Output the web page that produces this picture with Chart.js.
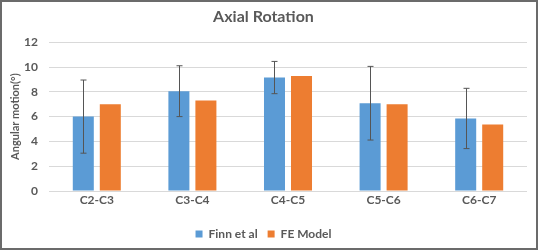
<!DOCTYPE html>
<html><head><meta charset="utf-8">
<script src="https://cdn.jsdelivr.net/npm/chart.js@4.4.0/dist/chart.umd.min.js"></script>
<style>
html,body{margin:0;padding:0;background:#fff;}
#wrap{position:relative;width:538px;height:250px;}
#frame{position:absolute;left:0;top:0;width:538px;height:250px;box-sizing:border-box;border:2px solid #6b6b6b;pointer-events:none;}
canvas{position:absolute;left:0;top:0;}
</style></head>
<body>
<div id="wrap"><canvas id="c" width="538" height="250"></canvas><div id="frame"></div></div>
<script>
const categories = ["C2-C3","C3-C4","C4-C5","C5-C6","C6-C7"];
const finnValues = [6.0, 8.05, 9.15, 7.08, 5.85];
const finnErrors = [2.95, 2.05, 1.3, 2.97, 2.43];
const feValues = [7.0, 7.3, 9.27, 7.0, 5.36];
const yTicks = [0, 2, 4, 6, 8, 10, 12];

const txt = '#595959';
const errorBars = {
  id: 'errorBars',
  afterDatasetsDraw(chart) {
    const ctx = chart.ctx;
    const meta = chart.getDatasetMeta(0);
    const y = chart.scales.y;
    ctx.save();
    ctx.strokeStyle = '#555555';
    ctx.lineWidth = 1;
    meta.data.forEach((bar, i) => {
      const x = Math.round(bar.x) + 0.5;
      const top = y.getPixelForValue(finnValues[i] + finnErrors[i]);
      const bot = y.getPixelForValue(finnValues[i] - finnErrors[i]);
      ctx.beginPath();
      ctx.moveTo(x, top); ctx.lineTo(x, bot);
      ctx.moveTo(x - 3, top); ctx.lineTo(x + 3, top);
      ctx.moveTo(x - 3, bot); ctx.lineTo(x + 3, bot);
      ctx.stroke();
    });
    ctx.restore();
  }
};

new Chart(document.getElementById('c'), {
  type: 'bar',
  data: {
    labels: categories,
    datasets: [
      { label: 'Finn et al', data: finnValues, backgroundColor: '#5B9BD5', categoryPercentage: 0.565, barPercentage: 0.778 },
      { label: 'FE Model', data: feValues, backgroundColor: '#ED7D31', categoryPercentage: 0.565, barPercentage: 0.778 }
    ]
  },
  options: {
    responsive: false,
    animation: false,
    devicePixelRatio: 1,
    layout: { padding: { left: 0, right: 11, top: 0, bottom: 0 } },
    plugins: {
      title: { display: true, text: 'Axial Rotation', color: txt, font: { family: 'Lato', size: 16, weight: 'bold' }, padding: { top: 7, bottom: 16 } },
      legend: { position: 'bottom', labels: { color: txt, boxWidth: 7, boxHeight: 7, padding: 10, font: { family: 'Lato', size: 12, weight: 'bold' } } },
      tooltip: { enabled: false }
    },
    scales: {
      x: {
        afterFit(s) { s.height = 27; },
        grid: { display: false },
        border: { display: false },
        ticks: { color: txt, font: { family: 'Lato', size: 12, weight: 'bold' }, padding: -6 }
      },
      y: {
        min: 0, max: 12,
        afterBuildTicks(s) { s.ticks = yTicks.map(v => ({ value: v })); },
        afterFit(s) { s.width = 49; },
        grid: { color: '#D9D9D9', drawTicks: false },
        border: { display: false },
        ticks: { color: txt, font: { family: 'Lato', size: 12, weight: 'bold' }, padding: 11 },
        title: { display: true, text: 'Angular motion(°)', color: txt, font: { family: 'Lato', size: 11, weight: 'bold' }, padding: { top: 9, bottom: 0 } }
      }
    }
  },
  plugins: [errorBars]
});
</script>
</body></html>
